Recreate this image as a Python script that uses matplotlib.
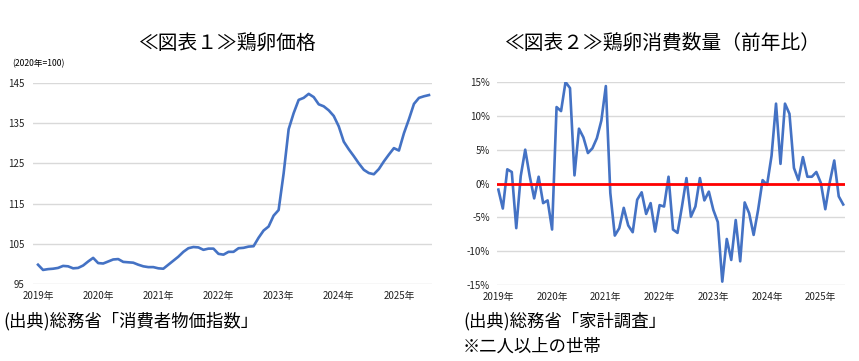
import matplotlib.pyplot as plt
import numpy as np

plt.rcParams['font.family'] = ['Noto Sans CJK JP', 'DejaVu Sans']

# 鶏卵価格 (2020年=100), 2019年1月〜2025年7月
price = [99.8, 98.5, 98.7, 98.8, 99.0, 99.5, 99.4, 98.9, 99.0, 99.6, 100.6, 101.5,
         100.2, 100.1, 100.6, 101.1, 101.2, 100.5, 100.4, 100.3, 99.8, 99.4, 99.2, 99.2,
         98.9, 98.8, 99.8, 100.8, 101.8, 103.0, 103.9, 104.2, 104.1, 103.5, 103.8, 103.8,
         102.5, 102.3, 103.0, 103.0, 103.9, 104.0, 104.3, 104.4, 106.5, 108.3, 109.3, 112.0,
         113.4, 122.5, 133.5, 137.5, 140.8, 141.3, 142.3, 141.5, 139.7, 139.2, 138.2, 136.8,
         134.2, 130.4, 128.5, 126.8, 125.0, 123.4, 122.6, 122.3, 123.6, 125.5, 127.2, 128.8,
         128.2, 132.5, 136.0, 139.8, 141.3, 141.7, 142.0]

# 鶏卵消費数量 前年比(%), 2019年1月〜2025年6月
volume = [-0.9, -3.7, 2.1, 1.7, -6.6, 1.1, 5.0, 1.1, -2.2, 1.0, -2.9, -2.5,
          -6.8, 11.3, 10.7, 15.0, 14.1, 1.2, 8.1, 6.8, 4.5, 5.2, 6.7, 9.3,
          14.4, -1.4, -7.7, -6.6, -3.6, -6.2, -7.2, -2.4, -1.3, -4.5, -2.9, -7.1,
          -3.2, -3.4, 1.0, -6.8, -7.3, -3.4, 0.8, -4.9, -3.4, 0.8, -2.5, -1.2,
          -3.9, -5.7, -14.5, -8.2, -11.3, -5.4, -11.5, -2.8, -4.4, -7.6, -3.9, 0.5,
          -0.2, 4.1, 11.8, 2.9, 11.8, 10.3, 2.3, 0.5, 3.9, 1.0, 1.0, 1.7,
          0.1, -3.8, 0.2, 3.4, -1.9, -3.1]

year_labels = ['2019年', '2020年', '2021年', '2022年', '2023年', '2024年', '2025年']
price_ticks = [95, 105, 115, 125, 135, 145]
pct_ticks = [-15, -10, -5, 0, 5, 10, 15]

blue = '#4472C4'
grid_c = '#d9d9d9'
W, H = 859, 361

fig = plt.figure(figsize=(W / 100, H / 100), dpi=100)


def px_axes(x0, y0, x1, y1):
    return fig.add_axes([x0 / W, 1 - y1 / H, (x1 - x0) / W, (y1 - y0) / H])


def style(ax):
    for s in ax.spines.values():
        s.set_visible(False)
    ax.tick_params(length=0, labelsize=7, colors='#222222')
    ax.grid(axis='y', color=grid_c, lw=1)
    ax.set_axisbelow(True)


# 図表1
ax1 = px_axes(33, 83, 432, 284)
style(ax1)
ax1.plot(np.arange(len(price)), price, color=blue, lw=1.9)
ax1.set_ylim(95, 145)
ax1.set_xlim(-1, 78.6)
ax1.set_yticks(price_ticks)
ax1.set_xticks(np.arange(len(year_labels)) * 12)
ax1.set_xticklabels(year_labels)
ax1.tick_params(axis='y', pad=6)
ax1.tick_params(axis='x', pad=5)

# 図表2
ax2 = px_axes(497, 82, 845, 285)
style(ax2)
ax2.plot(np.arange(len(volume)), volume, color=blue, lw=1.9)
ax2.axhline(0, color='#ff0000', lw=2.0, zorder=3)
ax2.set_ylim(-15, 15)
ax2.set_xlim(-0.3, 77.4)
ax2.set_yticks(pct_ticks)
ax2.set_yticklabels([f'{t}%' for t in pct_ticks])
ax2.set_xticks(np.arange(len(year_labels)) * 12)
ax2.set_xticklabels(year_labels)
ax2.tick_params(axis='y', pad=5)
ax2.tick_params(axis='x', pad=5)

fig.text(228 / W, 1 - 43 / H, '≪図表１≫鶏卵価格', ha='center', va='center', fontsize=14.2)
fig.text(663 / W, 1 - 43 / H, '≪図表２≫鶏卵消費数量（前年比）', ha='center', va='center', fontsize=14.2)
fig.text(12 / W, 1 - 64 / H, '(2020年=100)', ha='left', va='center', fontsize=6.2)

fig.text(3 / W, 1 - 321 / H, '(出典)総務省「消費者物価指数」', ha='left', va='center', fontsize=12.5)
fig.text(463 / W, 1 - 321 / H, '(出典)総務省「家計調査」', ha='left', va='center', fontsize=12.5)
fig.text(463 / W, 1 - 347 / H, '※二人以上の世帯', ha='left', va='center', fontsize=12.5)

fig.savefig('out.png', dpi=100)
